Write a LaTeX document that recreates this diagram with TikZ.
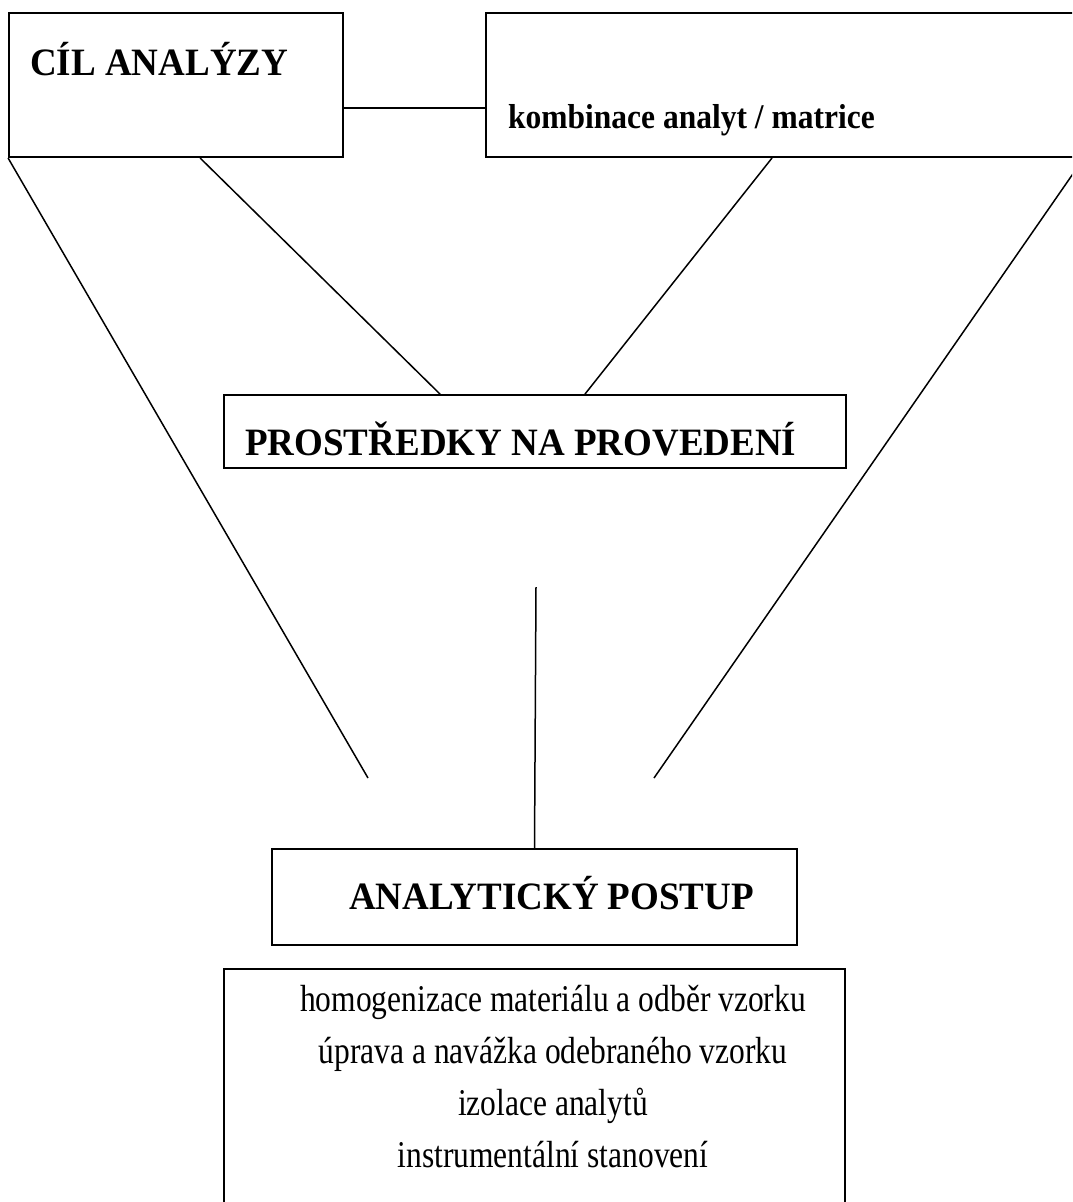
\documentclass[tikz,border=0pt]{standalone}
\usepackage{fontspec}
\setmainfont{Liberation Serif}[BoldFont={Liberation Serif Bold}]
\newfontfamily\hbf{Liberation Serif Bold}
\newcommand{\bigtxt}[1]{\scalebox{1.175}[1.23]{#1}}
\begin{document}
\begin{tikzpicture}[x=1pt,y=-1pt,
  boxnode/.style={draw, line width=1.9pt, inner sep=0pt, minimum width=#1},
  conn/.style={line width=1.5pt},
  bigbold/.style={inner sep=0pt, anchor=base west, font=\hbf\fontsize{31.5}{38}\selectfont},
  midbold/.style={inner sep=0pt, anchor=base west, font=\hbf\fontsize{31.5}{38}\selectfont},
  steptext/.style={inner sep=0pt, anchor=base, font=\fontsize{31.5}{38}\selectfont}]
\fill[white] (0,0) rectangle (1072,1202);
\clip (0,0) rectangle (1072,1202);
% boxes
\node[boxnode=334pt, minimum height=144pt] (cil) at (176,85) {};
\node[boxnode=597pt, minimum height=144pt] (komb) at (784.5,85) {};
\node[boxnode=622pt, minimum height=73pt] (prost) at (535,431.5) {};
\node[boxnode=525pt, minimum height=96pt] (anal) at (534.5,897) {};
\node[boxnode=621pt, minimum height=260pt] (steps) at (534.5,1099) {};
% texts
\node[bigbold] (tcil) at (30,75) {\bigtxt{CÍL ANALÝZY}};
\node[midbold] (tkomb) at (508,128) {\scalebox{1}[1.1]{kombinace analyt / matrice}};
\node[bigbold] (tprost) at (245,455) {\bigtxt{PROSTŘEDKY NA PROVEDENÍ}};
\node[bigbold] (tanal) at (349,909) {\bigtxt{ANALYTICKÝ POSTUP}};
\node[steptext] (s1) at (553,1011) {\scalebox{1}[1.2]{homogenizace materiálu a odběr vzorku}};
\node[steptext] (s2) at (553,1063) {\scalebox{1}[1.2]{úprava a navážka odebraného vzorku}};
\node[steptext] (s3) at (553,1115) {\scalebox{1}[1.2]{izolace analytů}};
\node[steptext] (s4) at (553,1167) {\scalebox{1}[1.2]{instrumentální stanovení}};
% free ends
\coordinate (endL) at (368,778);
\coordinate (endR) at (654,778);
\coordinate (topV) at (536,587);
% connectors
\draw[conn] ([yshift=-23pt]cil.east) -- ([yshift=-23pt]komb.west);
\draw[conn] (cil.south west) -- (endL);
\draw[conn] ([xshift=192pt]cil.south west) -- ([xshift=-95pt]prost.north);
\draw[conn] ([xshift=287pt]komb.south west) -- ([xshift=50pt]prost.north);
\draw[conn] (komb.south east) -- (endR);
\draw[conn] (topV) -- (anal.north);
\end{tikzpicture}
\end{document}
